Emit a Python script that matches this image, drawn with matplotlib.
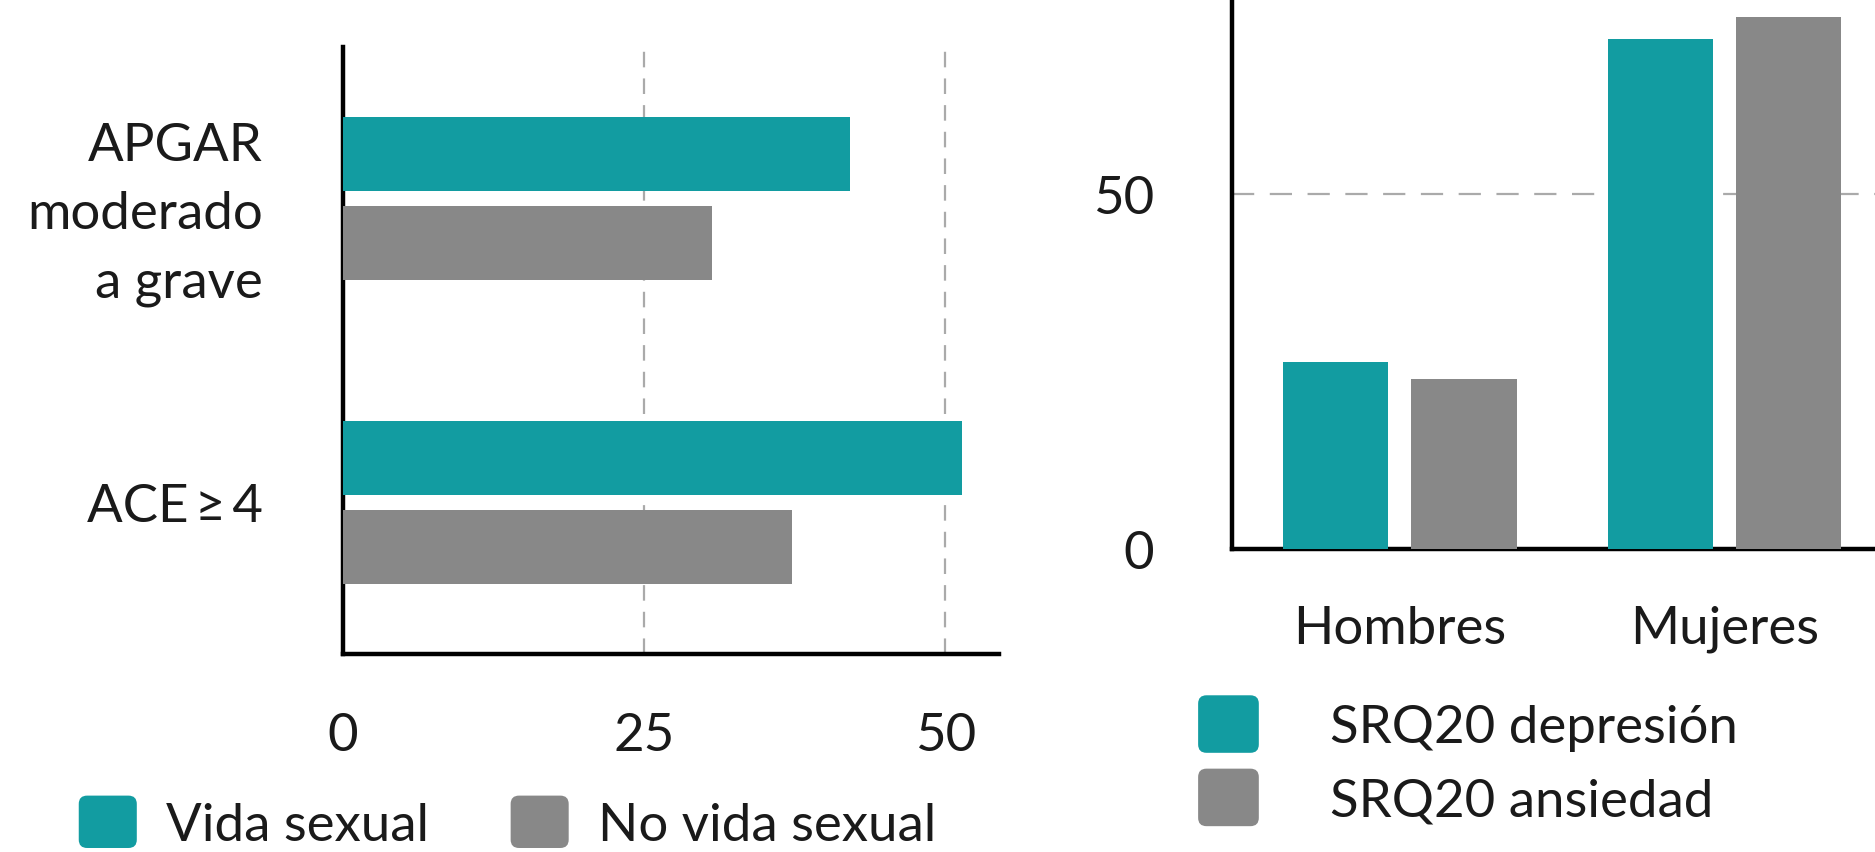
import numpy as np
import matplotlib
matplotlib.use("Agg")
import matplotlib.pyplot as plt
from matplotlib.patches import FancyBboxPatch, Patch
from matplotlib.legend_handler import HandlerPatch

# datos del panel izquierdo
cat_izq = ["ACE\u2009≥\u20094", "APGAR\nmoderado\na grave"]
vida_sexual = [51.4, 42.1]
no_vida_sexual = [37.3, 30.6]

# datos del panel derecho
cat_der = ["Hombres", "Mujeres"]
srq_depresion = [26.3, 71.8]
srq_ansiedad = [23.9, 74.9]

TEAL = "#129ca1"
GRIS = "#888888"

plt.rcParams['font.family'] = ['Lato', 'DejaVu Sans']
plt.rcParams['font.size'] = 38
plt.rcParams['text.color'] = '#1a1a1a'
plt.rcParams['xtick.color'] = '#1a1a1a'
plt.rcParams['ytick.color'] = '#1a1a1a'


class CuadroRedondo(HandlerPatch):
    def create_artists(self, legend, orig_handle, xdescent, ydescent, width, height, fontsize, trans):
        p = FancyBboxPatch((-xdescent, -ydescent), width, height,
                           boxstyle="round,pad=0,rounding_size=6",
                           fc=orig_handle.get_facecolor(), ec='none', transform=trans)
        return [p]


fig = plt.figure(figsize=(18.75, 8.53), dpi=100)

# panel izquierdo: barras horizontales
ax1 = fig.add_axes([0.183, 0.232, 0.350, 0.712])
y = np.arange(len(cat_izq))
ax1.barh(y + 0.147, vida_sexual, height=0.244, color=TEAL, zorder=3)
ax1.barh(y - 0.147, no_vida_sexual, height=0.244, color=GRIS, zorder=3)
ax1.set_ylim(-0.5, 1.5)
ax1.set_xlim(0, 54.5)
ax1.set_yticks(y)
ax1.set_yticklabels(cat_izq, ha='right', linespacing=1.55)
ax1.set_xticks([0, 25, 50])
for v in [25, 50]:
    ax1.axvline(v, color='#aaaaaa', lw=1.6, dashes=(7, 5), zorder=1)
ax1.tick_params(axis='both', length=0)
ax1.tick_params(axis='y', pad=58)
ax1.tick_params(axis='x', pad=42)
for s in ['top', 'right']:
    ax1.spines[s].set_visible(False)
for s in ['left', 'bottom']:
    ax1.spines[s].set_linewidth(3.2)
    ax1.spines[s].set_color('black')
# subir un poco la etiqueta de varias lineas
ax1.get_yticklabels()[1].set_y(1.02)

# panel derecho: barras verticales
ax2 = fig.add_axes([0.657, 0.355, 0.353, 0.645])
x = np.arange(len(cat_der))
ax2.bar(x - 0.197, srq_depresion, width=0.324, color=TEAL, zorder=3)
ax2.bar(x + 0.197, srq_ansiedad, width=0.324, color=GRIS, zorder=3)
ax2.set_xlim(-0.517, 1.52)
ax2.set_ylim(0, 77.4)
ax2.set_xticks(x)
ax2.set_xticklabels(cat_der)
ax2.set_yticks([0, 50])
ax2.axhline(50, color='#aaaaaa', lw=1.6, dashes=(10, 7), zorder=1)
ax2.tick_params(axis='both', length=0)
ax2.tick_params(axis='y', pad=56)
ax2.tick_params(axis='x', pad=40)
for s in ['top', 'right']:
    ax2.spines[s].set_visible(False)
for s in ['left', 'bottom']:
    ax2.spines[s].set_linewidth(3.2)
    ax2.spines[s].set_color('black')

# leyendas
h1 = [Patch(facecolor=TEAL), Patch(facecolor=GRIS)]
fig.legend(h1, ["Vida sexual", "No vida sexual"], ncol=2, frameon=False,
           loc='center left', bbox_to_anchor=(0.042, 0.035),
           handlelength=1.1, handleheight=1.15, handletextpad=0.55,
           columnspacing=1.55, borderpad=0, borderaxespad=0,
           handler_map={Patch: CuadroRedondo()})

fig.legend(h1, ["SRQ20 depresión", "SRQ20 ansiedad"], ncol=1, frameon=False,
           loc='center left', bbox_to_anchor=(0.639, 0.107),
           handlelength=1.15, handleheight=1.3, handletextpad=1.35,
           labelspacing=0.3, borderpad=0, borderaxespad=0,
           handler_map={Patch: CuadroRedondo()})

fig.savefig("out.png", dpi=100)
